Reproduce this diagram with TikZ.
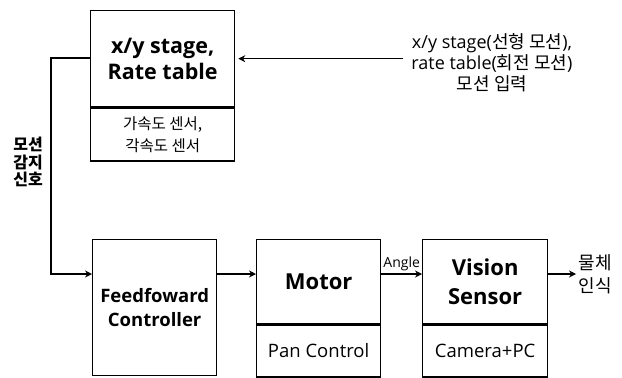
\documentclass[tikz,border=0pt]{standalone}
\usepackage{fontspec}
\setmainfont{Open Sans}
\newfontfamily\kr{Noto Sans CJK KR}
\usetikzlibrary{arrows.meta,positioning}

\begin{document}
\begin{tikzpicture}[x=1pt,y=-1pt,line width=1.3pt,
      box/.style={draw,rectangle,inner sep=0pt,minimum width=144pt,align=center,anchor=north west},
      titlebox/.style={box,minimum height=96pt,font=\fontsize{21.5}{26}\selectfont\bfseries},
      subbox/.style={box,minimum height=53pt,font=\fontsize{18.5}{22}\selectfont},
      arr/.style={-{Stealth[length=7pt,width=7pt]}}]
    \useasboundingbox (0,0) rectangle (622,378);
    % upper block: motion input
    \node[titlebox] (stg) at (90,10) {x/y stage,\\Rate table};
    \node[subbox,below=0pt of stg.south west,anchor=north west,font=\fontsize{15.5}{22}\kr] (sens) {가속도 센서,\\각속도 센서};
    \node[font=\fontsize{18}{21}\selectfont,align=center] (inp) at (492,63) {x/y stage({\kr 선형 모션}),\\rate table({\kr 회전 모션})\\{\kr 모션 입력}};
    \draw[arr] (inp.west |- stg.east) ++(-4,0) -- ([xshift=3pt]stg.east);
    % lower row
    \node[titlebox,minimum width=124pt,minimum height=136pt,font=\fontsize{18.5}{24}\selectfont\bfseries] (ff) at (92,239) {Feedfoward\\Controller};
    \node[titlebox,minimum width=124pt,minimum height=84pt,font=\fontsize{22}{29}\selectfont\bfseries] (mot) at (256,239) {Motor};
    \node[subbox,minimum width=124pt,minimum height=52pt,below=0pt of mot.south west,anchor=north west] (pan) {Pan Control};
    \node[titlebox,minimum width=125pt,minimum height=84pt,font=\fontsize{22}{29}\selectfont\bfseries] (vis) at (422,239) {Vision\\Sensor};
    \node[subbox,minimum width=125pt,minimum height=52pt,below=0pt of vis.south west,anchor=north west] (cam) {Camera+PC};
    \node[font=\fontsize{18}{23}\kr,align=left,anchor=west,inner sep=2pt] (obj) at (576,274) {물체\\인식};
    \node[font=\fontsize{16}{17.5}\kr\bfseries,align=center] (sig) at (28,162) {모션\\감지\\신호};
    % connectors
    \coordinate (row) at (0,274);
    \coordinate (fbk) at (51,58);
    \draw[arr] (stg.west |- fbk) -- (fbk) |- (ff.west |- row);
    \draw[arr] (ff.east |- row) -- (mot.west |- row);
    \draw[arr] (mot.east |- row) -- node[above,font=\fontsize{14}{15}\selectfont,inner sep=2pt] (ang) {Angle} (vis.west |- row);
    \draw[arr] (vis.east |- row) -- (obj.west |- row);
  \end{tikzpicture}
\end{document}
